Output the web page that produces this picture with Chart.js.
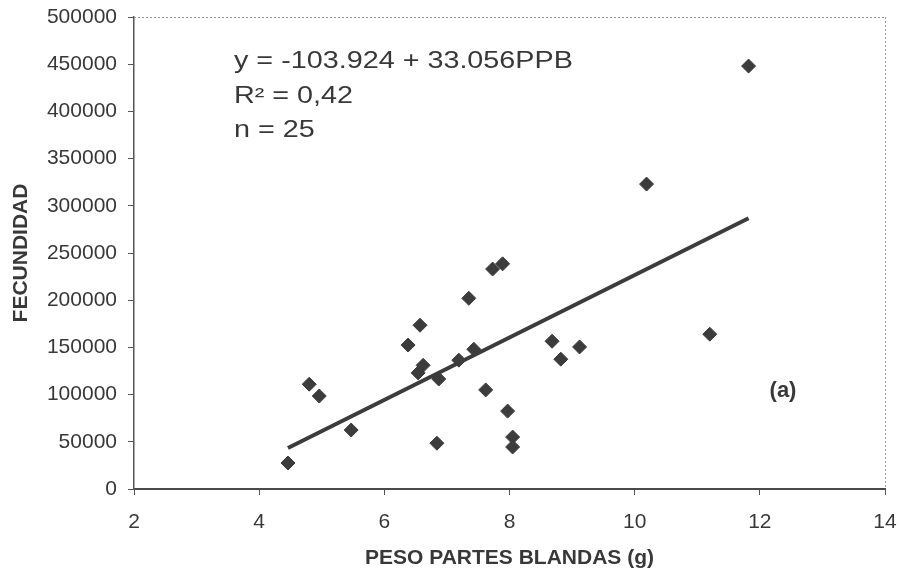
<!DOCTYPE html>
<html>
<head>
<meta charset="utf-8">
<script src="https://cdn.jsdelivr.net/npm/chart.js@4"></script>
<style>
  html, body { margin: 0; padding: 0; background: #ffffff; }
  #wrap { width: 900px; height: 577px; }
</style>
</head>
<body>
<div id="wrap"><canvas id="c" width="900" height="577"></canvas></div>
<script>
// Peso partes blandas (g)
const pesoPB = [4.46, 4.80, 4.96, 5.47, 6.38, 6.57, 6.54, 6.62, 6.84, 6.87, 7.19, 7.35, 7.43,
                7.62, 7.73, 7.89, 7.97, 8.05, 8.05, 8.68, 8.82, 9.12, 10.19, 11.20, 11.82];
// Fecundidad
const fecundidad = [27500, 111000, 98500, 62500, 152500, 173500, 123000, 131000, 48500, 116500,
                    136500, 202000, 148000, 105000, 233000, 238500, 82500, 55000, 44500,
                    156500, 137500, 150500, 323000, 164000, 448000];
// Regression: y = -103.924 + 33.056 PPB (in the figure's units)
const intercept = -103924;
const slope = 33056;
const annotLines = ['y = -103.924 + 33.056PPB', 'R\u00B2 = 0,42', 'n = 25'];
const panelLabel = '(a)';
const xTitle = 'PESO PARTES BLANDAS (g)';
const yTitle = 'FECUNDIDAD';

const pts = pesoPB.map((x, i) => ({ x: x, y: fecundidad[i] }));
const xMinD = Math.min(...pesoPB), xMaxD = Math.max(...pesoPB);
const fitPts = [xMinD, xMaxD].map(x => ({ x: x, y: intercept + slope * x }));

const FONT = "'Liberation Sans', Arial, sans-serif";
const INK = '#383838';

const framePlugin = {
  id: 'frame',
  beforeDatasetsDraw(chart) {
    const { ctx, chartArea: a } = chart;
    ctx.save();
    ctx.strokeStyle = '#9a9a9a';
    ctx.lineWidth = 1;
    ctx.setLineDash([2, 2]);
    ctx.beginPath();
    ctx.moveTo(a.left, a.top + 0.5);
    ctx.lineTo(a.right, a.top + 0.5);
    ctx.moveTo(a.right + 0.5, a.top);
    ctx.lineTo(a.right + 0.5, a.bottom);
    ctx.stroke();
    ctx.restore();
  },
  afterDraw(chart) {
    const { ctx } = chart;
    ctx.save();
    ctx.fillStyle = INK;
    ctx.font = "23px " + FONT;
    ctx.textAlign = 'left';
    ctx.textBaseline = 'alphabetic';
    const baselines = [68, 103, 137];
    annotLines.forEach((t, i) => {
      ctx.save();
      ctx.translate(234, baselines[i]);
      ctx.scale(1.25, 1);
      ctx.fillText(t, 0, 0);
      ctx.restore();
    });
    ctx.font = "bold 22px " + FONT;
    ctx.textAlign = 'center';
    ctx.textBaseline = 'middle';
    ctx.fillText(panelLabel, 783, 391);
    ctx.restore();
  }
};

new Chart(document.getElementById('c'), {
  type: 'scatter',
  data: {
    datasets: [
      {
        type: 'line',
        data: fitPts,
        borderColor: '#3c3c3c',
        borderWidth: 4,
        pointRadius: 0,
        fill: false,
        order: 2
      },
      {
        data: pts,
        pointStyle: 'rectRot',
        pointRadius: 7,
        backgroundColor: '#3c3c3c',
        borderColor: '#3c3c3c',
        borderWidth: 1,
        order: 1
      }
    ]
  },
  options: {
    responsive: false,
    animation: false,
    devicePixelRatio: 1,
    layout: { padding: { top: 17, right: 15, left: 0, bottom: 0 } },
    plugins: { legend: { display: false }, tooltip: { enabled: false } },
    scales: {
      x: {
        type: 'linear',
        min: 2, max: 14,
        afterFit: s => { s.height = 88; s.paddingLeft = 0; s.paddingRight = 0; },
        ticks: { stepSize: 2, color: INK, font: { family: FONT, size: 21 }, padding: 15,
                 callback: v => String(v) },
        grid: { display: true, drawOnChartArea: false, drawTicks: true, tickLength: 6, color: '#555', lineWidth: 1 },
        border: { display: true, color: '#4a4a4a', width: 2 },
        title: { display: true, text: xTitle, color: INK, font: { family: FONT, size: 21, weight: 'bold' }, padding: { top: 0, bottom: 6 } }
      },
      y: {
        type: 'linear',
        min: 0, max: 500000,
        afterFit: s => { s.width = 134; s.paddingTop = 0; s.paddingBottom = 0; },
        ticks: { stepSize: 50000, color: INK, font: { family: FONT, size: 21 }, padding: 11,
                 callback: v => String(v) },
        grid: { display: true, drawOnChartArea: false, drawTicks: true, tickLength: 6, color: '#555', lineWidth: 1 },
        border: { display: true, color: '#555', width: 1.5 },
        title: { display: true, text: yTitle, color: INK, font: { family: FONT, size: 21, weight: 'bold' }, padding: { top: 9, bottom: 0 } }
      }
    }
  },
  plugins: [framePlugin]
});
</script>
</body>
</html>
